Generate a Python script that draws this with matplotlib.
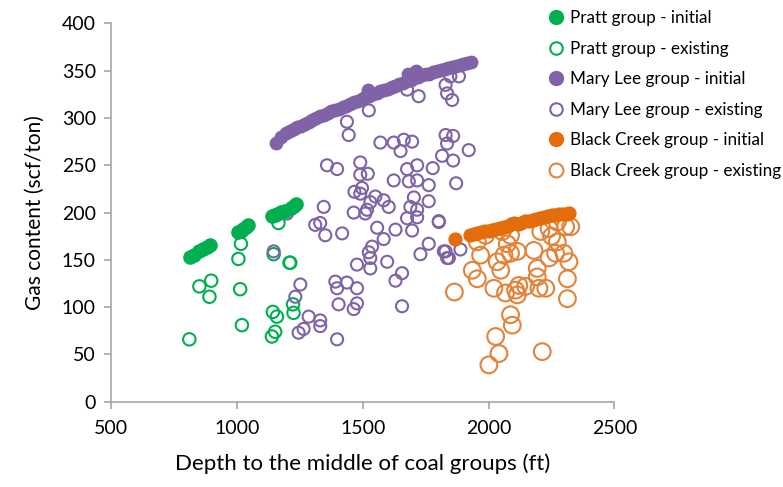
import matplotlib.pyplot as plt
from matplotlib.lines import Line2D

plt.rcParams['font.family'] = ['Lato', 'DejaVu Sans']

# Pratt group
pratt_init_x = [815, 830, 850, 865, 880, 895, 1005, 1015, 1025, 1035, 1045,
                1140, 1150, 1160, 1175, 1190, 1215, 1225, 1235]
pratt_init_y = [153, 155, 159, 161, 164, 166, 179, 181, 183, 185, 187,
                196, 197, 199, 201, 202, 205, 207, 209]
pratt_exist_x = [811, 851, 898, 891, 1016, 1006, 1013, 1020, 1165, 1146, 1209,
                 1143, 1159, 1152, 1139, 1223, 1225, 1212]
pratt_exist_y = [66, 122, 128, 111, 167, 151, 119, 81, 189, 156, 147,
                 95, 90, 74, 69, 103, 94, 147]

# Mary Lee group
ml_init_x = [1155, 1175, 1195, 1210, 1225, 1240, 1255, 1270, 1285, 1300, 1315,
             1330, 1345, 1360, 1375, 1390, 1405, 1420, 1435, 1450, 1465, 1480,
             1495, 1510, 1520, 1525, 1540, 1555, 1570, 1585, 1600, 1615, 1630,
             1645, 1660, 1675, 1680, 1690, 1705, 1710, 1720, 1735, 1750, 1765,
             1780, 1795, 1810, 1825, 1840, 1855, 1870, 1885, 1900, 1915, 1930]
ml_init_y = [274, 280, 284, 286, 288, 290, 292, 294, 296, 298, 300,
             302, 303, 305, 307, 308, 310, 312, 313, 315, 317, 318,
             320, 322, 330, 323, 325, 326, 328, 330, 331, 333, 334,
             336, 337, 339, 346, 340, 342, 350, 343, 345, 346, 347,
             349, 350, 351, 352, 353, 354, 355, 356, 357, 358, 359]
ml_exist_x = [1524, 1437, 1444, 1570, 1623, 1663, 1696, 1650, 1829, 1859, 1835,
              1921, 1815, 1859, 1358, 1398, 1490, 1520, 1490, 1676, 1716, 1778,
              1623, 1683, 1716, 1762, 1871, 1467, 1497, 1490, 1550, 1530, 1583,
              1603, 1703, 1762, 1689, 1716, 1345, 1464, 1517, 1510, 1331, 1311,
              1557, 1630, 1676, 1716, 1802, 1351, 1418, 1583, 1696, 1762, 1537,
              1524, 1530, 1477, 1597, 1729, 1822, 1842, 1888, 1530, 1656, 1630,
              1252, 1391, 1437, 1398, 1477, 1232, 1404, 1477, 1464, 1656, 1285,
              1331, 1331, 1265, 1245, 1398, 1146, 1199, 1676, 1722, 1829, 1835,
              1855, 1848, 1882, 1802, 1829, 1835]
ml_exist_y = [308, 296, 282, 274, 274, 277, 275, 265, 282, 281, 273,
              266, 260, 255, 250, 246, 253, 241, 240, 246, 250, 247,
              234, 233, 234, 229, 231, 222, 226, 220, 217, 211, 213,
              206, 216, 212, 206, 203, 206, 200, 203, 199, 189, 187,
              184, 182, 194, 195, 191, 176, 178, 172, 181, 167, 164,
              158, 152, 145, 148, 156, 159, 152, 161, 141, 136, 128,
              124, 127, 126, 120, 120, 111, 103, 104, 98, 101, 90,
              86, 80, 77, 73, 66, 159, 199, 330, 323, 335, 326,
              319, 344, 344, 190, 159, 152]

# Black Creek group
bc_init_x = [1865, 1925, 1940, 1955, 1970, 1985, 2000, 2015, 2030, 2045, 2060,
             2075, 2090, 2100, 2115, 2130, 2145, 2160, 2175, 2190, 2205, 2220,
             2235, 2250, 2265, 2280, 2295, 2310, 2320]
bc_init_y = [172, 176, 177, 178, 179, 180, 181, 182, 183, 184, 185,
             186, 188, 189, 188, 189, 191, 191, 192, 193, 194, 195,
             196, 197, 197, 198, 199, 199, 200]
bc_exist_x = [1955, 1988, 2054, 2087, 2074, 2087, 2114, 2061, 1968, 1935, 1955,
              2034, 2048, 2021, 2067, 2107, 2120, 2147, 2114, 2193, 2193, 2200,
              2227, 2240, 2273, 2266, 2299, 2319, 2313, 2313, 2207, 2240, 2273,
              2306, 2326, 1864, 2087, 2094, 2028, 2041, 2001, 2213, 2180, 2250]
bc_exist_y = [169, 176, 180, 176, 167, 157, 159, 155, 155, 139, 130,
              148, 139, 120, 115, 118, 123, 122, 113, 141, 132, 120,
              120, 152, 169, 157, 157, 148, 130, 109, 180, 183, 190,
              185, 185, 116, 92, 81, 69, 51, 39, 53, 160, 175]

green = '#00B050'
purple = '#7F63A6'
orange = '#E46C0A'
orange2 = '#E3833A'

fig = plt.figure(figsize=(7.83, 4.87), dpi=100)
ax = fig.add_axes([0.1418, 0.175, 0.643, 0.777])

ax.scatter(pratt_exist_x, pratt_exist_y, s=80, facecolors='none', edgecolors=green, linewidths=1.5, zorder=3)
ax.scatter(pratt_init_x, pratt_init_y, s=90, color=green, zorder=4)
ax.scatter(ml_exist_x, ml_exist_y, s=75, facecolors='none', edgecolors=purple, linewidths=1.5, zorder=3)
ax.scatter(ml_init_x, ml_init_y, s=80, color=purple, zorder=4)
ax.scatter(bc_exist_x, bc_exist_y, s=145, facecolors='none', edgecolors=orange2, linewidths=1.5, zorder=3)
ax.scatter(bc_init_x, bc_init_y, s=85, color=orange, zorder=4)

ax.set_xlim(500, 2500)
ax.set_ylim(0, 400)
ax.set_xticks([500, 1000, 1500, 2000, 2500])
ax.set_yticks(range(0, 401, 50))
for s in ['top', 'right']:
    ax.spines[s].set_visible(False)
for s in ['left', 'bottom']:
    ax.spines[s].set_color('#A6A6A6')
    ax.spines[s].set_linewidth(1.2)
ax.tick_params(axis='both', colors='#A6A6A6', labelcolor='black', labelsize=14, length=5, width=1.2)
ax.tick_params(axis='x', pad=8)
ax.tick_params(axis='y', pad=6)
ax.set_xlabel('Depth to the middle of coal groups (ft)', fontsize=16, labelpad=12)
ax.set_ylabel('Gas content (scf/ton)', fontsize=15, labelpad=12)

handles = [
    Line2D([], [], ls='none', marker='o', ms=10, color=green),
    Line2D([], [], ls='none', marker='o', ms=9, mfc='none', mec=green, mew=1.5),
    Line2D([], [], ls='none', marker='o', ms=10, color=purple),
    Line2D([], [], ls='none', marker='o', ms=9, mfc='none', mec=purple, mew=1.5),
    Line2D([], [], ls='none', marker='o', ms=10, color=orange),
    Line2D([], [], ls='none', marker='o', ms=10, mfc='none', mec=orange2, mew=1.5),
]
labels = ['Pratt group - initial', 'Pratt group - existing',
          'Mary Lee group - initial', 'Mary Lee group - existing',
          'Black Creek group - initial', 'Black Creek group - existing']
fig.legend(handles, labels, loc='upper left', bbox_to_anchor=(0.685, 1.0),
           frameon=False, fontsize=12.3, handlelength=1.05, handletextpad=0.3,
           labelspacing=0.85, borderaxespad=0.2)

fig.savefig('out.png', dpi=100)
